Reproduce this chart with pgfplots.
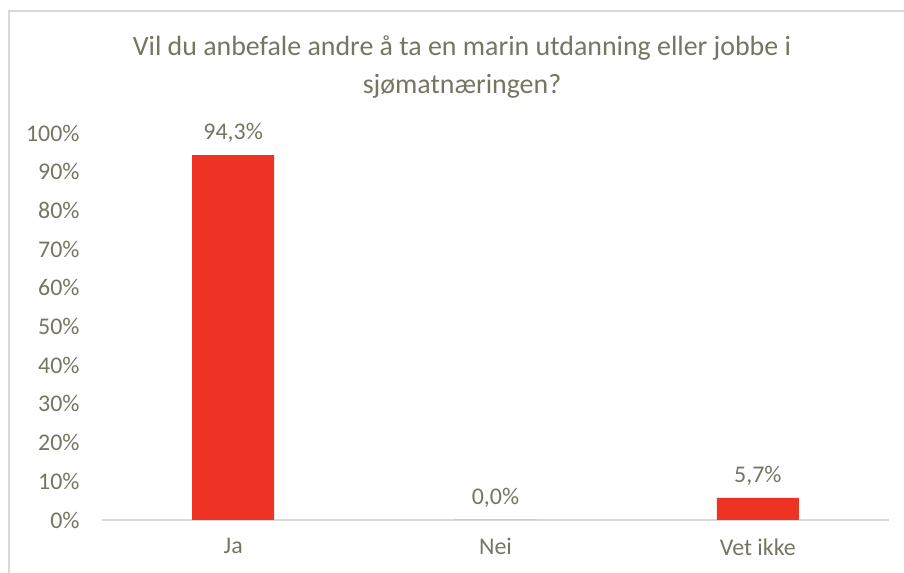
\documentclass[border=0pt]{standalone}
\usepackage{pgfplots}
\pgfplotsset{compat=1.18}
\usepackage{fontspec}
\setmainfont{Carlito}
\definecolor{txt}{RGB}{118,117,98}
\definecolor{barred}{RGB}{238,50,36}
\definecolor{axisgray}{RGB}{217,217,217}
\begin{document}
\begin{tikzpicture}[x=1bp,y=1bp]
\path[use as bounding box] (0,0) rectangle (904,573);
\draw[axisgray, line width=1.2bp] (9,-20) -- (9,562) -- (930,562);
\node[txt, align=center, font=\fontsize{28}{38}\selectfont] at (462,506) {Vil du anbefale andre å ta en marin utdanning eller jobbe i\\sjømatnæringen?};
\begin{axis}[
  at={(102bp,53bp)}, anchor=south west,
  scale only axis, width=787bp, height=387bp,
  xmin=-0.5, xmax=2.5, ymin=0, ymax=100,
  axis x line*=bottom, axis y line*=left,
  x axis line style={axisgray, line width=1.5bp, -},
  y axis line style={draw=none},
  major tick length=0pt,
  ytick={0,10,...,100},
  yticklabel={\pgfmathprintnumber{\tick}\%},
  yticklabel style={anchor=east, xshift=-19bp},
  xtick={0,1,2}, xticklabels={Ja,Nei,Vet ikke},
  xticklabel style={yshift=-15bp},
  tick label style={txt, font=\fontsize{24}{28}\selectfont},
  /pgf/number format/assume math mode=true,
  ybar, bar width=82bp,
  clip=false,
  nodes near coords={\pgfmathprintnumber[fixed,zerofill,precision=1,use comma]{\pgfplotspointmeta}\%},
  every node near coord/.append style={txt, font=\fontsize{24}{28}\selectfont, yshift=9bp},
]
\addplot[fill=barred, draw=none] coordinates {(0,94.3) (1,0) (2,5.7)};
\end{axis}
\end{tikzpicture}
\end{document}
